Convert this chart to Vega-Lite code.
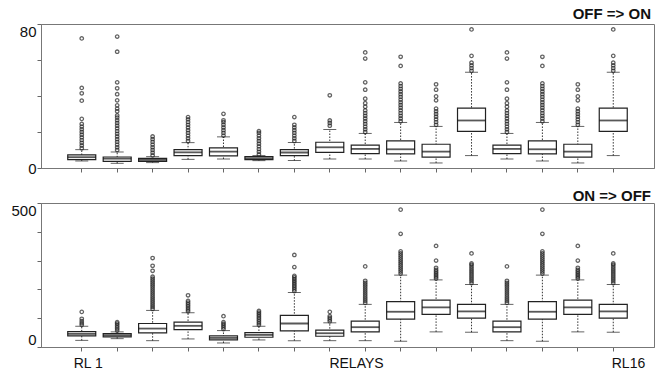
{
  "$schema": "https://vega.github.io/schema/vega-lite/v6.json",
  "background": "white",
  "padding": {"left": 10, "top": 6, "right": 0, "bottom": 10},
  "spacing": 35,
  "bounds": "flush",
  "config": {
    "view": {"stroke": "#777", "strokeWidth": 1},
    "axis": {"grid": false, "domainColor": "#777", "tickColor": "#666", "tickSize": 4, "labelFont": "Liberation Sans", "labelColor": "#111", "titleColor": "#111", "labelOverlap": false},
    "title": {"font": "Liberation Sans", "fontSize": 15, "fontWeight": "bold", "color": "#111", "anchor": "end", "frame": "group", "dx": -3}
  },
  "datasets": {
    "offStats": [
      {"relay": 1, "lower": 3.9, "q1": 4.65, "median": 6.0, "q3": 7.3, "upper": 10.2},
      {"relay": 2, "lower": 2.6, "q1": 3.7, "median": 5.2, "q3": 6.1, "upper": 8.9},
      {"relay": 3, "lower": 3.0, "q1": 3.7, "median": 4.5, "q3": 5.4, "upper": 6.3},
      {"relay": 4, "lower": 4.8, "q1": 6.9, "median": 8.7, "q3": 10.2, "upper": 14.1},
      {"relay": 5, "lower": 5.0, "q1": 6.7, "median": 9.1, "q3": 11.2, "upper": 17.3},
      {"relay": 6, "lower": 4.1, "q1": 4.65, "median": 5.4, "q3": 6.3, "upper": 6.9},
      {"relay": 7, "lower": 4.1, "q1": 6.9, "median": 8.6, "q3": 10.2, "upper": 14.1},
      {"relay": 8, "lower": 5.0, "q1": 8.7, "median": 11.5, "q3": 14.3, "upper": 21.4},
      {"relay": 9, "lower": 5.0, "q1": 8.0, "median": 10.6, "q3": 12.7, "upper": 19.2},
      {"relay": 10, "lower": 3.9, "q1": 7.8, "median": 10.4, "q3": 15.1, "upper": 25.3},
      {"relay": 11, "lower": 2.8, "q1": 6.0, "median": 9.1, "q3": 13.2, "upper": 23.1},
      {"relay": 12, "lower": 6.9, "q1": 20.3, "median": 26.4, "q3": 33.3, "upper": 53.2},
      {"relay": 13, "lower": 5.0, "q1": 8.0, "median": 10.6, "q3": 12.7, "upper": 19.2},
      {"relay": 14, "lower": 3.9, "q1": 7.8, "median": 10.4, "q3": 15.1, "upper": 25.3},
      {"relay": 15, "lower": 2.8, "q1": 6.0, "median": 9.1, "q3": 13.2, "upper": 23.1},
      {"relay": 16, "lower": 6.9, "q1": 20.3, "median": 26.4, "q3": 33.3, "upper": 53.2}
    ],
    "offOut": [
      {"relay": 1, "v": 11}, {"relay": 1, "v": 12.5}, {"relay": 1, "v": 14}, {"relay": 1, "v": 15.5}, {"relay": 1, "v": 17}, {"relay": 1, "v": 18.5}, {"relay": 1, "v": 20}, {"relay": 1, "v": 21.5}, {"relay": 1, "v": 23}, {"relay": 1, "v": 24.5}, {"relay": 1, "v": 27.3}, {"relay": 1, "v": 37.4}, {"relay": 1, "v": 41.5}, {"relay": 1, "v": 44.5}, {"relay": 1, "v": 72},
      {"relay": 2, "v": 10}, {"relay": 2, "v": 11.5}, {"relay": 2, "v": 13}, {"relay": 2, "v": 14.5}, {"relay": 2, "v": 16}, {"relay": 2, "v": 17.5}, {"relay": 2, "v": 19}, {"relay": 2, "v": 20.5}, {"relay": 2, "v": 22}, {"relay": 2, "v": 23.5}, {"relay": 2, "v": 25}, {"relay": 2, "v": 26.5}, {"relay": 2, "v": 28}, {"relay": 2, "v": 29.2}, {"relay": 2, "v": 31.5}, {"relay": 2, "v": 33}, {"relay": 2, "v": 34.8}, {"relay": 2, "v": 37.6}, {"relay": 2, "v": 41}, {"relay": 2, "v": 44.3}, {"relay": 2, "v": 47.6}, {"relay": 2, "v": 64.6}, {"relay": 2, "v": 73},
      {"relay": 3, "v": 7}, {"relay": 3, "v": 8.5}, {"relay": 3, "v": 10}, {"relay": 3, "v": 11.5}, {"relay": 3, "v": 13}, {"relay": 3, "v": 14.5}, {"relay": 3, "v": 16}, {"relay": 3, "v": 17.5},
      {"relay": 4, "v": 15}, {"relay": 4, "v": 16.5}, {"relay": 4, "v": 18}, {"relay": 4, "v": 19.5}, {"relay": 4, "v": 21}, {"relay": 4, "v": 22.5}, {"relay": 4, "v": 24}, {"relay": 4, "v": 25.5}, {"relay": 4, "v": 27}, {"relay": 4, "v": 28.3},
      {"relay": 5, "v": 18}, {"relay": 5, "v": 19.5}, {"relay": 5, "v": 21}, {"relay": 5, "v": 22.5}, {"relay": 5, "v": 24}, {"relay": 5, "v": 25.5}, {"relay": 5, "v": 26.5}, {"relay": 5, "v": 30.1},
      {"relay": 6, "v": 7.5}, {"relay": 6, "v": 9}, {"relay": 6, "v": 10.5}, {"relay": 6, "v": 12}, {"relay": 6, "v": 13.5}, {"relay": 6, "v": 15}, {"relay": 6, "v": 16.5}, {"relay": 6, "v": 18}, {"relay": 6, "v": 19.5}, {"relay": 6, "v": 20.5},
      {"relay": 7, "v": 15}, {"relay": 7, "v": 16.5}, {"relay": 7, "v": 18}, {"relay": 7, "v": 19.5}, {"relay": 7, "v": 21}, {"relay": 7, "v": 22.5}, {"relay": 7, "v": 24}, {"relay": 7, "v": 28.3},
      {"relay": 8, "v": 23.5}, {"relay": 8, "v": 25}, {"relay": 8, "v": 26.4}, {"relay": 8, "v": 40.4},
      {"relay": 9, "v": 20}, {"relay": 9, "v": 21.5}, {"relay": 9, "v": 23}, {"relay": 9, "v": 24.5}, {"relay": 9, "v": 26}, {"relay": 9, "v": 27.5}, {"relay": 9, "v": 29}, {"relay": 9, "v": 30.5}, {"relay": 9, "v": 32}, {"relay": 9, "v": 34}, {"relay": 9, "v": 36}, {"relay": 9, "v": 38.5}, {"relay": 9, "v": 43.5}, {"relay": 9, "v": 47.6}, {"relay": 9, "v": 60.8}, {"relay": 9, "v": 64.2},
      {"relay": 10, "v": 26}, {"relay": 10, "v": 27.5}, {"relay": 10, "v": 29}, {"relay": 10, "v": 30.5}, {"relay": 10, "v": 32}, {"relay": 10, "v": 33.5}, {"relay": 10, "v": 35}, {"relay": 10, "v": 36.5}, {"relay": 10, "v": 38}, {"relay": 10, "v": 39.5}, {"relay": 10, "v": 41}, {"relay": 10, "v": 42.5}, {"relay": 10, "v": 44}, {"relay": 10, "v": 45.5}, {"relay": 10, "v": 47}, {"relay": 10, "v": 56.7}, {"relay": 10, "v": 61.8},
      {"relay": 11, "v": 24}, {"relay": 11, "v": 25.5}, {"relay": 11, "v": 27}, {"relay": 11, "v": 28.5}, {"relay": 11, "v": 30}, {"relay": 11, "v": 31.5}, {"relay": 11, "v": 33}, {"relay": 11, "v": 37.6}, {"relay": 11, "v": 39.8}, {"relay": 11, "v": 43.5}, {"relay": 11, "v": 46.5},
      {"relay": 12, "v": 54}, {"relay": 12, "v": 55.5}, {"relay": 12, "v": 57}, {"relay": 12, "v": 58.5}, {"relay": 12, "v": 62.3}, {"relay": 12, "v": 77},
      {"relay": 13, "v": 20}, {"relay": 13, "v": 21.5}, {"relay": 13, "v": 23}, {"relay": 13, "v": 24.5}, {"relay": 13, "v": 26}, {"relay": 13, "v": 27.5}, {"relay": 13, "v": 29}, {"relay": 13, "v": 30.5}, {"relay": 13, "v": 32}, {"relay": 13, "v": 34}, {"relay": 13, "v": 36}, {"relay": 13, "v": 38.5}, {"relay": 13, "v": 43.5}, {"relay": 13, "v": 47.6}, {"relay": 13, "v": 60.8}, {"relay": 13, "v": 64.2},
      {"relay": 14, "v": 26}, {"relay": 14, "v": 27.5}, {"relay": 14, "v": 29}, {"relay": 14, "v": 30.5}, {"relay": 14, "v": 32}, {"relay": 14, "v": 33.5}, {"relay": 14, "v": 35}, {"relay": 14, "v": 36.5}, {"relay": 14, "v": 38}, {"relay": 14, "v": 39.5}, {"relay": 14, "v": 41}, {"relay": 14, "v": 42.5}, {"relay": 14, "v": 44}, {"relay": 14, "v": 45.5}, {"relay": 14, "v": 47}, {"relay": 14, "v": 56.7}, {"relay": 14, "v": 61.8},
      {"relay": 15, "v": 24}, {"relay": 15, "v": 25.5}, {"relay": 15, "v": 27}, {"relay": 15, "v": 28.5}, {"relay": 15, "v": 30}, {"relay": 15, "v": 31.5}, {"relay": 15, "v": 33}, {"relay": 15, "v": 37.6}, {"relay": 15, "v": 39.8}, {"relay": 15, "v": 43.5}, {"relay": 15, "v": 46.5},
      {"relay": 16, "v": 54}, {"relay": 16, "v": 55.5}, {"relay": 16, "v": 57}, {"relay": 16, "v": 58.5}, {"relay": 16, "v": 62.3}, {"relay": 16, "v": 77}
    ],
    "onStats": [
      {"relay": 1, "lower": 23, "q1": 38.5, "median": 45.5, "q3": 53.6, "upper": 72},
      {"relay": 2, "lower": 29, "q1": 35, "median": 40.8, "q3": 46.6, "upper": 52.5},
      {"relay": 3, "lower": 22, "q1": 49, "median": 64, "q3": 81.6, "upper": 127},
      {"relay": 4, "lower": 28, "q1": 60.6, "median": 73.5, "q3": 86.3, "upper": 119},
      {"relay": 5, "lower": 14, "q1": 24.5, "median": 31.5, "q3": 38.5, "upper": 57},
      {"relay": 6, "lower": 24.5, "q1": 33.8, "median": 42, "q3": 50, "upper": 72},
      {"relay": 7, "lower": 22, "q1": 56, "median": 81.6, "q3": 109.6, "upper": 189},
      {"relay": 8, "lower": 22, "q1": 37.3, "median": 47.8, "q3": 58.3, "upper": 84},
      {"relay": 9, "lower": 22, "q1": 52.5, "median": 68.8, "q3": 89.8, "upper": 148},
      {"relay": 10, "lower": 20, "q1": 96.8, "median": 122.4, "q3": 157.4, "upper": 249.6},
      {"relay": 11, "lower": 52.5, "q1": 113, "median": 137.6, "q3": 163, "upper": 233},
      {"relay": 12, "lower": 51.3, "q1": 100.3, "median": 123.6, "q3": 148, "upper": 217},
      {"relay": 13, "lower": 22, "q1": 52.5, "median": 68.8, "q3": 89.8, "upper": 148},
      {"relay": 14, "lower": 20, "q1": 96.8, "median": 122.4, "q3": 157.4, "upper": 249.6},
      {"relay": 15, "lower": 52.5, "q1": 113, "median": 137.6, "q3": 163, "upper": 233},
      {"relay": 16, "lower": 51.3, "q1": 100.3, "median": 123.6, "q3": 148, "upper": 217}
    ],
    "onOut": [
      {"relay": 1, "v": 77}, {"relay": 1, "v": 83}, {"relay": 1, "v": 90}, {"relay": 1, "v": 98}, {"relay": 1, "v": 122},
      {"relay": 2, "v": 57}, {"relay": 2, "v": 63}, {"relay": 2, "v": 69}, {"relay": 2, "v": 75}, {"relay": 2, "v": 81}, {"relay": 2, "v": 86},
      {"relay": 3, "v": 132}, {"relay": 3, "v": 139}, {"relay": 3, "v": 146}, {"relay": 3, "v": 153}, {"relay": 3, "v": 160}, {"relay": 3, "v": 167}, {"relay": 3, "v": 174}, {"relay": 3, "v": 181}, {"relay": 3, "v": 188}, {"relay": 3, "v": 195}, {"relay": 3, "v": 202}, {"relay": 3, "v": 209}, {"relay": 3, "v": 216}, {"relay": 3, "v": 223}, {"relay": 3, "v": 230}, {"relay": 3, "v": 237}, {"relay": 3, "v": 244}, {"relay": 3, "v": 264.7}, {"relay": 3, "v": 282}, {"relay": 3, "v": 309},
      {"relay": 4, "v": 124}, {"relay": 4, "v": 130}, {"relay": 4, "v": 136}, {"relay": 4, "v": 142}, {"relay": 4, "v": 148}, {"relay": 4, "v": 154}, {"relay": 4, "v": 160}, {"relay": 4, "v": 179.6},
      {"relay": 5, "v": 62}, {"relay": 5, "v": 68}, {"relay": 5, "v": 74}, {"relay": 5, "v": 80}, {"relay": 5, "v": 86}, {"relay": 5, "v": 107},
      {"relay": 6, "v": 77}, {"relay": 6, "v": 83}, {"relay": 6, "v": 89}, {"relay": 6, "v": 95}, {"relay": 6, "v": 101}, {"relay": 6, "v": 107}, {"relay": 6, "v": 113}, {"relay": 6, "v": 119}, {"relay": 6, "v": 125},
      {"relay": 7, "v": 194}, {"relay": 7, "v": 200}, {"relay": 7, "v": 206}, {"relay": 7, "v": 212}, {"relay": 7, "v": 218}, {"relay": 7, "v": 224}, {"relay": 7, "v": 230}, {"relay": 7, "v": 236}, {"relay": 7, "v": 242}, {"relay": 7, "v": 247}, {"relay": 7, "v": 277.5}, {"relay": 7, "v": 319.5},
      {"relay": 8, "v": 89}, {"relay": 8, "v": 95}, {"relay": 8, "v": 101}, {"relay": 8, "v": 107}, {"relay": 8, "v": 122},
      {"relay": 9, "v": 153}, {"relay": 9, "v": 160}, {"relay": 9, "v": 167}, {"relay": 9, "v": 174}, {"relay": 9, "v": 181}, {"relay": 9, "v": 188}, {"relay": 9, "v": 195}, {"relay": 9, "v": 202}, {"relay": 9, "v": 209}, {"relay": 9, "v": 216}, {"relay": 9, "v": 223}, {"relay": 9, "v": 230}, {"relay": 9, "v": 280},
      {"relay": 10, "v": 255}, {"relay": 10, "v": 262}, {"relay": 10, "v": 269}, {"relay": 10, "v": 276}, {"relay": 10, "v": 283}, {"relay": 10, "v": 290}, {"relay": 10, "v": 297}, {"relay": 10, "v": 304}, {"relay": 10, "v": 311}, {"relay": 10, "v": 318}, {"relay": 10, "v": 325}, {"relay": 10, "v": 332}, {"relay": 10, "v": 393}, {"relay": 10, "v": 477},
      {"relay": 11, "v": 238}, {"relay": 11, "v": 244}, {"relay": 11, "v": 250}, {"relay": 11, "v": 256}, {"relay": 11, "v": 262}, {"relay": 11, "v": 268}, {"relay": 11, "v": 275}, {"relay": 11, "v": 300}, {"relay": 11, "v": 351},
      {"relay": 12, "v": 222}, {"relay": 12, "v": 229}, {"relay": 12, "v": 236}, {"relay": 12, "v": 243}, {"relay": 12, "v": 250}, {"relay": 12, "v": 257}, {"relay": 12, "v": 264}, {"relay": 12, "v": 271}, {"relay": 12, "v": 278}, {"relay": 12, "v": 285}, {"relay": 12, "v": 290}, {"relay": 12, "v": 325},
      {"relay": 13, "v": 153}, {"relay": 13, "v": 160}, {"relay": 13, "v": 167}, {"relay": 13, "v": 174}, {"relay": 13, "v": 181}, {"relay": 13, "v": 188}, {"relay": 13, "v": 195}, {"relay": 13, "v": 202}, {"relay": 13, "v": 209}, {"relay": 13, "v": 216}, {"relay": 13, "v": 223}, {"relay": 13, "v": 230}, {"relay": 13, "v": 280},
      {"relay": 14, "v": 255}, {"relay": 14, "v": 262}, {"relay": 14, "v": 269}, {"relay": 14, "v": 276}, {"relay": 14, "v": 283}, {"relay": 14, "v": 290}, {"relay": 14, "v": 297}, {"relay": 14, "v": 304}, {"relay": 14, "v": 311}, {"relay": 14, "v": 318}, {"relay": 14, "v": 325}, {"relay": 14, "v": 332}, {"relay": 14, "v": 393}, {"relay": 14, "v": 477},
      {"relay": 15, "v": 238}, {"relay": 15, "v": 244}, {"relay": 15, "v": 250}, {"relay": 15, "v": 256}, {"relay": 15, "v": 262}, {"relay": 15, "v": 268}, {"relay": 15, "v": 275}, {"relay": 15, "v": 300}, {"relay": 15, "v": 351},
      {"relay": 16, "v": 222}, {"relay": 16, "v": 229}, {"relay": 16, "v": 236}, {"relay": 16, "v": 243}, {"relay": 16, "v": 250}, {"relay": 16, "v": 257}, {"relay": 16, "v": 264}, {"relay": 16, "v": 271}, {"relay": 16, "v": 278}, {"relay": 16, "v": 285}, {"relay": 16, "v": 290}, {"relay": 16, "v": 325}
    ]
  },
  "vconcat": [
    {
      "title": {"text": "OFF => ON", "offset": 2},
      "width": 613,
      "height": 144,
      "layer": [
        {
          "data": {"name": "offStats"},
          "mark": {"type": "rule", "strokeDash": [1.5, 1.5], "color": "#333", "strokeWidth": 1},
          "encoding": {
            "x": {"field": "relay", "type": "ordinal", "scale": {"paddingInner": 0.2, "paddingOuter": 0.75}, "axis": {"title": null, "labels": false, "ticks": true}},
            "y": {"field": "lower", "type": "quantitative", "scale": {"domain": [0, 80], "nice": false}, "axis": {"title": null, "tickCount": 12, "values": [0, 20, 40, 60, 80], "labelExpr": "datum.value == 0 ? '0' : datum.value == 80 ? '80' : ''", "labelFontSize": 15, "labelPadding": 1, "labelBaseline": {"condition": {"test": "datum.value == 80", "value": "top"}, "value": "middle"}}},
            "y2": {"field": "upper"}
          }
        },
        {
          "data": {"name": "offStats"},
          "mark": {"type": "tick", "size": 13, "thickness": 1, "color": "#222"},
          "encoding": {"x": {"field": "relay", "type": "ordinal"}, "y": {"field": "lower", "type": "quantitative"}}
        },
        {
          "data": {"name": "offStats"},
          "mark": {"type": "tick", "size": 13, "thickness": 1, "color": "#222"},
          "encoding": {"x": {"field": "relay", "type": "ordinal"}, "y": {"field": "upper", "type": "quantitative"}}
        },
        {
          "data": {"name": "offOut"},
          "mark": {"type": "point", "shape": "circle", "size": 12, "filled": false, "stroke": "#222", "strokeWidth": 1.3},
          "encoding": {"x": {"field": "relay", "type": "ordinal"}, "y": {"field": "v", "type": "quantitative"}}
        },
        {
          "data": {"name": "offStats"},
          "mark": {"type": "bar", "size": 28, "fill": "white", "stroke": "#222", "strokeWidth": 1.2},
          "encoding": {"x": {"field": "relay", "type": "ordinal"}, "y": {"field": "q1", "type": "quantitative"}, "y2": {"field": "q3"}}
        },
        {
          "data": {"name": "offStats"},
          "mark": {"type": "tick", "size": 28, "thickness": 1.8, "color": "#111"},
          "encoding": {"x": {"field": "relay", "type": "ordinal"}, "y": {"field": "median", "type": "quantitative"}}
        }
      ]
    },
    {
      "title": {"text": "ON => OFF", "offset": -1},
      "width": 613,
      "height": 144,
      "layer": [
        {
          "data": {"name": "onStats"},
          "mark": {"type": "rule", "strokeDash": [1.5, 1.5], "color": "#333", "strokeWidth": 1},
          "encoding": {
            "x": {"field": "relay", "type": "ordinal", "scale": {"paddingInner": 0.2, "paddingOuter": 0.75}, "axis": {"title": "RELAYS", "titleFont": "Liberation Sans", "titleFontSize": 14, "titleFontWeight": "normal", "titleX": 315, "titleY": 16, "titleBaseline": "middle", "titleAlign": "center", "labelExpr": "datum.value == 1 ? 'RL 1' : datum.value == 16 ? 'RL16' : ''", "labelAngle": 0, "labelFontSize": 14, "labelAlign": "left", "labelBaseline": "middle", "labelPadding": 12, "labelOffset": {"condition": {"test": "datum.value == 1", "value": -8}, "value": -1.5}}},
            "y": {"field": "lower", "type": "quantitative", "scale": {"domain": [0, 500], "nice": false}, "axis": {"title": null, "tickCount": 12, "values": [0, 100, 200, 300, 400, 500], "labelExpr": "datum.value == 0 ? '0' : datum.value == 500 ? '500' : ''", "labelFontSize": 15, "labelPadding": 1, "labelBaseline": {"condition": [{"test": "datum.value == 500", "value": "top"}, {"test": "datum.value == 0", "value": "bottom"}], "value": "middle"}}},
            "y2": {"field": "upper"}
          }
        },
        {
          "data": {"name": "onStats"},
          "mark": {"type": "tick", "size": 13, "thickness": 1, "color": "#222"},
          "encoding": {"x": {"field": "relay", "type": "ordinal"}, "y": {"field": "lower", "type": "quantitative"}}
        },
        {
          "data": {"name": "onStats"},
          "mark": {"type": "tick", "size": 13, "thickness": 1, "color": "#222"},
          "encoding": {"x": {"field": "relay", "type": "ordinal"}, "y": {"field": "upper", "type": "quantitative"}}
        },
        {
          "data": {"name": "onOut"},
          "mark": {"type": "point", "shape": "circle", "size": 12, "filled": false, "stroke": "#222", "strokeWidth": 1.3},
          "encoding": {"x": {"field": "relay", "type": "ordinal"}, "y": {"field": "v", "type": "quantitative"}}
        },
        {
          "data": {"name": "onStats"},
          "mark": {"type": "bar", "size": 28, "fill": "white", "stroke": "#222", "strokeWidth": 1.2},
          "encoding": {"x": {"field": "relay", "type": "ordinal"}, "y": {"field": "q1", "type": "quantitative"}, "y2": {"field": "q3"}}
        },
        {
          "data": {"name": "onStats"},
          "mark": {"type": "tick", "size": 28, "thickness": 1.8, "color": "#111"},
          "encoding": {"x": {"field": "relay", "type": "ordinal"}, "y": {"field": "median", "type": "quantitative"}}
        }
      ]
    }
  ]
}
